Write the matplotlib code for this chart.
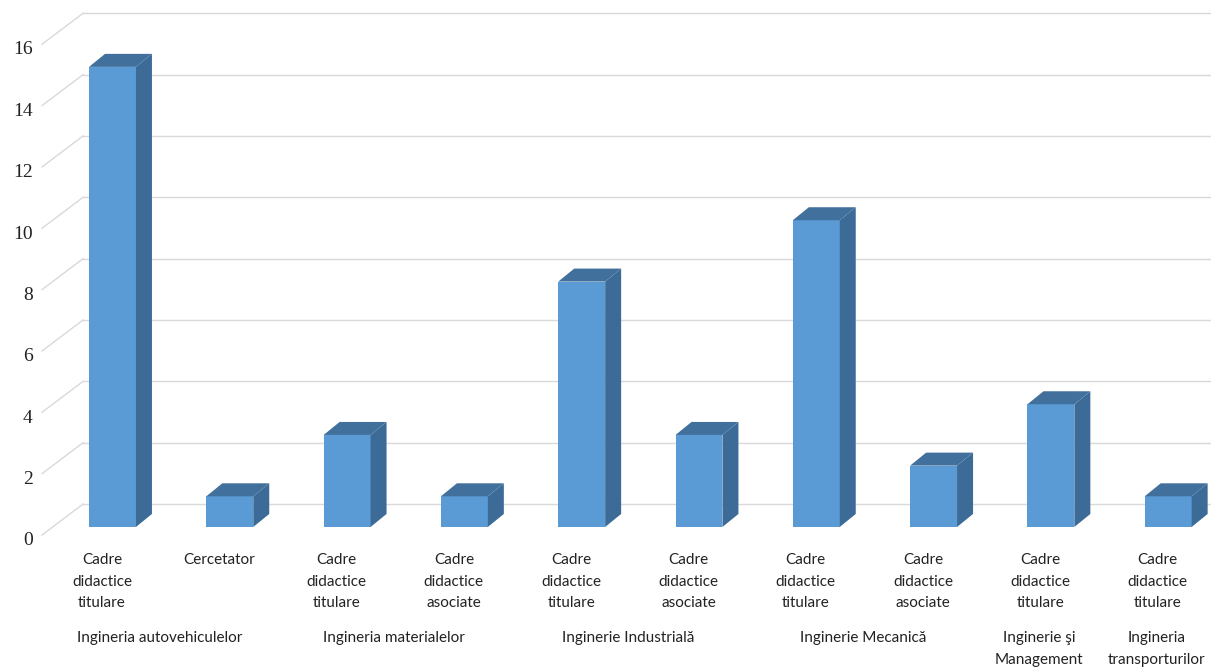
import numpy as np
import matplotlib.pyplot as plt
from matplotlib.patches import Polygon

# datele graficului
categorii = ['Cadre\ndidactice\ntitulare', 'Cercetator',
             'Cadre\ndidactice\ntitulare', 'Cadre\ndidactice\nasociate',
             'Cadre\ndidactice\ntitulare', 'Cadre\ndidactice\nasociate',
             'Cadre\ndidactice\ntitulare', 'Cadre\ndidactice\nasociate',
             'Cadre\ndidactice\ntitulare', 'Cadre\ndidactice\ntitulare']
valori = [15, 1, 3, 1, 8, 3, 10, 2, 4, 1]
grupe = ['Ingineria autovehiculelor', 'Ingineria materialelor',
         'Inginerie Industrială', 'Inginerie Mecanică',
         'Inginerie şi\nManagement', 'Ingineria\ntransporturilor']
grupe_idx = [(0, 1), (2, 3), (4, 5), (6, 7), (8, 8), (9, 9)]
yticks = [0, 2, 4, 6, 8, 10, 12, 14, 16]

# culori
c_fata = '#5b9bd5'
c_lat = '#3d6b98'
c_sus = '#41709c'
c_grid = '#d9d9d9'

fig = plt.figure(figsize=(12.11, 6.67), dpi=100)
ax = fig.add_axes([0, 0, 1, 1])
# 117.3 px pe categorie, 30.67 px pe unitate
ax.set_xlim(-0.959, 9.365)
ax.set_ylim(-4.565, 17.18)
ax.axis('off')

lat = 0.40          # latimea barei
dx = 16 / 117.3     # adancime pe x
dy = 13 / 30.67     # adancime pe y
perete = 0.75       # peretele din spate
x_perete = -0.25

# grila + liniile diagonale din stanga
for v in yticks:
    yb = v + perete
    ax.plot([x_perete, 9.6], [yb, yb], color=c_grid, lw=1, zorder=1)
    ax.plot([x_perete, -0.60], [yb, yb - 1.01], color=c_grid, lw=1, zorder=1)
    ax.text(-0.68, yb - 1.2, str(v), ha='right', va='center',
            fontsize=14, family='Liberation Serif', color='#222222')

# barele 3D
for i, v in enumerate(valori):
    x0 = i - lat / 2
    x1 = i + lat / 2
    fata = Polygon([(x0, 0), (x1, 0), (x1, v), (x0, v)], closed=True,
                   facecolor=c_fata, edgecolor='none', zorder=3)
    latura = Polygon([(x1, 0), (x1 + dx, dy), (x1 + dx, v + dy), (x1, v)],
                     closed=True, facecolor=c_lat, edgecolor='none', zorder=3)
    sus = Polygon([(x0, v), (x1, v), (x1 + dx, v + dy), (x0 + dx, v + dy)],
                  closed=True, facecolor=c_sus, edgecolor='none', zorder=3)
    for p in (fata, latura, sus):
        ax.add_patch(p)

# etichete categorii
for i, c in enumerate(categorii):
    ax.text(i - 0.09, -0.85, c, ha='center', va='top', fontsize=11,
            family='Lato', color='#222222', linespacing=1.7)

# etichete grupe
for g, (a, b) in zip(grupe, grupe_idx):
    ax.text((a + b) / 2 - 0.1, -3.4, g, ha='center', va='top', fontsize=11,
            family='Lato', color='#222222', linespacing=1.7)

plt.savefig('out.png', dpi=100)
